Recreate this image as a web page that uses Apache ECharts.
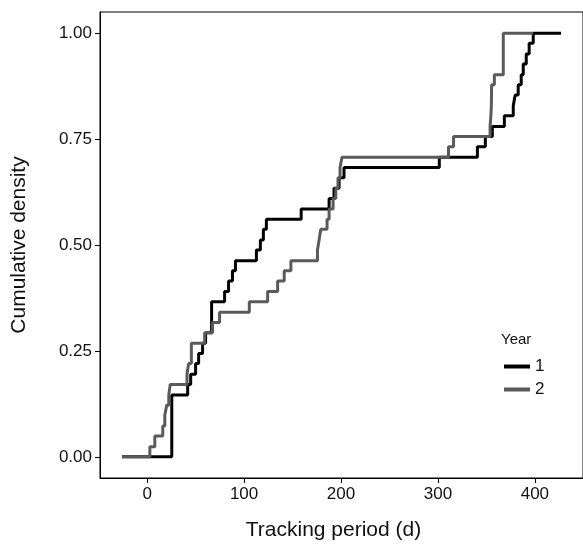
<!DOCTYPE html>
<html>
<head>
<meta charset="utf-8">
<script src="https://cdn.jsdelivr.net/npm/echarts@6/dist/echarts.min.js"></script>
<style>
  html, body { margin: 0; padding: 0; background: #fff; }
  #main { width: 583px; height: 549px; }
</style>
</head>
<body>
<div id="main"></div>
<script>
// Year 1 step points [day, cumulative density]
var year1 = [
  [-26, 0], [25.4, 0.146], [41.8, 0.171], [44.9, 0.195], [50.0, 0.22], [53.1, 0.244],
  [57.2, 0.268], [60.3, 0.293], [66.5, 0.366], [79.9, 0.39], [84.0, 0.415], [88.0, 0.439],
  [91.1, 0.463], [112.7, 0.488], [116.8, 0.512], [119.9, 0.537], [123.0, 0.561],
  [158.9, 0.585], [187.7, 0.61], [192.8, 0.634], [198.0, 0.659], [203.1, 0.683],
  [301.4, 0.707], [340.7, 0.732], [348.9, 0.756], [356.1, 0.78], [368.5, 0.805],
  [377.7, 0.829], [379.7, 0.854], [382.8, 0.878], [385.9, 0.902], [388.0, 0.927],
  [391.1, 0.951], [394.1, 0.976], [398.3, 1.0], [427, 1.0]
];
// Year 2 step points
var year2 = [
  [-26, 0], [2.8, 0.024], [7.9, 0.049], [16.1, 0.073], [18.2, 0.098], [20.2, 0.122],
  [22.3, 0.146], [23.8, 0.171], [41.1, 0.195], [42.8, 0.22], [45.6, 0.268],
  [59.3, 0.293], [67.5, 0.317], [74.7, 0.341], [105.4, 0.366], [124.3, 0.39],
  [134.6, 0.415], [141.4, 0.439], [148.3, 0.463], [175.7, 0.488], [177.4, 0.512],
  [179.1, 0.537], [185.6, 0.561], [187.7, 0.585], [191.8, 0.61], [194.6, 0.634],
  [196.9, 0.659], [199.0, 0.683], [201.0, 0.707], [310.9, 0.732], [316.1, 0.756],
  [353.8, 0.78], [354.6, 0.805], [355.1, 0.829], [355.4, 0.878], [358.2, 0.902],
  [367.4, 1.0], [398.3, 1.0]
];
var xTicks = [0, 100, 200, 300, 400];
var yTicks = [0, 0.25, 0.5, 0.75, 1];

var chart = echarts.init(document.getElementById('main'));
var font = '"Liberation Sans", Arial, Helvetica, sans-serif';

var option = {
  animation: false,
  textStyle: { fontFamily: font },
  title: {
    text: 'Year',
    left: 496, top: 327,
    textStyle: { fontSize: 15, fontWeight: 'normal', color: '#111', fontFamily: font }
  },
  legend: {
    orient: 'vertical',
    left: 499, top: 353,
    itemWidth: 26, itemHeight: 4,
    itemGap: 6,
    icon: 'rect',
    textStyle: { fontSize: 17, color: '#111', fontFamily: font },
    data: [
      { name: '1', itemStyle: { color: '#000' } },
      { name: '2', itemStyle: { color: '#5a5a5a' } }
    ]
  },
  grid: {
    left: 100, top: 12, width: 485, height: 466,
    show: true, borderColor: '#000', borderWidth: 1
  },
  xAxis: {
    type: 'value',
    min: -48.65, max: 449.65,
    name: 'Tracking period (d)',
    nameLocation: 'middle',
    nameGap: 42,
    nameTextStyle: { fontSize: 21, color: '#111', fontFamily: font, padding: [0, 16, 0, 0] },
    axisLine: { show: true, onZero: false, lineStyle: { color: '#000' } },
    axisTick: { show: true, inside: false, length: 5, lineStyle: { color: '#000' }, customValues: xTicks },
    axisLabel: { fontSize: 17, color: '#111', margin: 8, customValues: xTicks },
    splitLine: { show: false }
  },
  yAxis: {
    type: 'value',
    min: -0.05, max: 1.05,
    name: 'Cumulative density',
    nameLocation: 'middle',
    nameGap: 70,
    nameTextStyle: { fontSize: 21, color: '#111', fontFamily: font },
    axisLine: { show: true, onZero: false, lineStyle: { color: '#000' } },
    axisTick: { show: true, inside: false, length: 5, lineStyle: { color: '#000' }, customValues: yTicks },
    axisLabel: {
      fontSize: 17, color: '#111', margin: 8, customValues: yTicks,
      formatter: function (v) { return v.toFixed(2); }
    },
    splitLine: { show: false }
  },
  series: [
    {
      name: '1', type: 'line', step: 'end', data: year1,
      showSymbol: false, symbol: 'none',
      lineStyle: { color: '#000', width: 3 },
      itemStyle: { color: '#000' }
    },
    {
      name: '2', type: 'line', step: 'end', data: year2,
      showSymbol: false, symbol: 'none',
      lineStyle: { color: '#5a5a5a', width: 3 },
      itemStyle: { color: '#5a5a5a' }
    }
  ]
};
chart.setOption(option);
</script>
</body>
</html>
